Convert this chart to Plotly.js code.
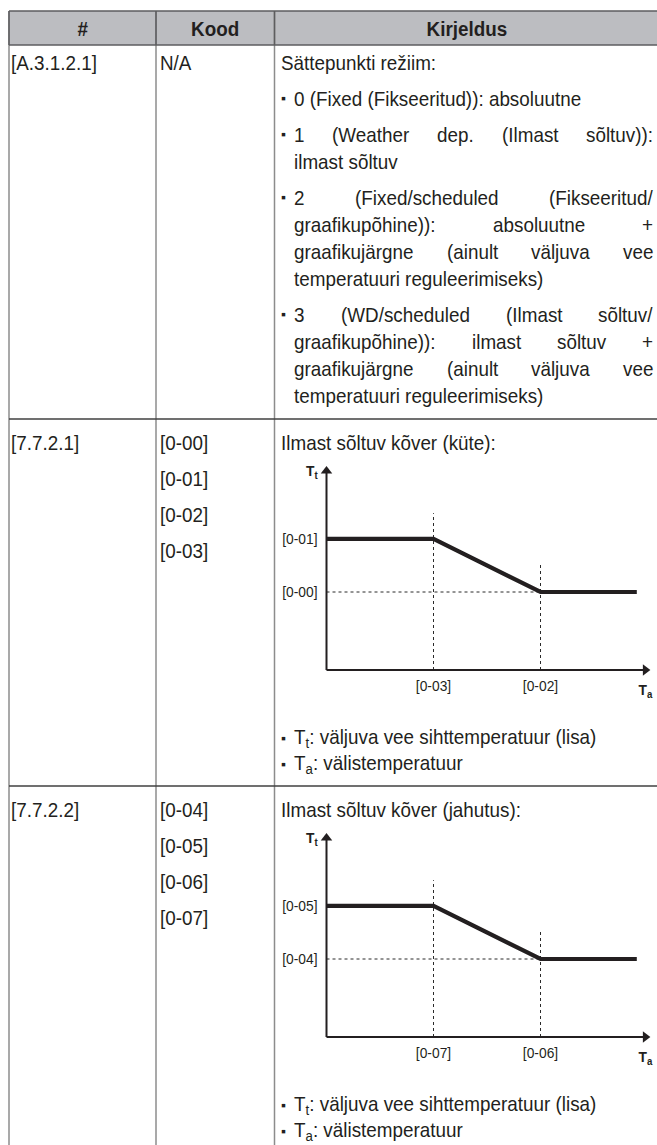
<!DOCTYPE html>
<html><head><meta charset="utf-8">
<script src="https://cdn.plot.ly/plotly-3.0.1.min.js"></script>
<style>html,body{margin:0;padding:0;background:#fff}#chart{width:657px;height:1145px}</style>
</head><body><div id="chart"></div>
<script>
// ---------------- data ----------------
const columnHeaders = ['#', 'Kood', 'Kirjeldus'];
const menuIds = ['[A.3.1.2.1]', '[7.7.2.1]', '[7.7.2.2]'];
const fieldCodes = [['N/A'], ['[0-00]', '[0-01]', '[0-02]', '[0-03]'], ['[0-04]', '[0-05]', '[0-06]', '[0-07]']];
const setpointIntro = 'Sättepunkti režiim:';
const setpointOptions = [
  ['0 (Fixed (Fikseeritud)): absoluutne'],
  ['1 (Weather dep. (Ilmast sõltuv)):', 'ilmast sõltuv'],
  ['2 (Fixed/scheduled (Fikseeritud/', 'graafikupõhine)): absoluutne +', 'graafikujärgne (ainult väljuva vee', 'temperatuuri reguleerimiseks)'],
  ['3 (WD/scheduled (Ilmast sõltuv/', 'graafikupõhine)): ilmast sõltuv +', 'graafikujärgne (ainult väljuva vee', 'temperatuuri reguleerimiseks)']
];
const curveTitles = ['Ilmast sõltuv kõver (küte):', 'Ilmast sõltuv kõver (jahutus):'];
const legendLines = ['T<sub>t</sub>: väljuva vee sihttemperatuur (lisa)', 'T<sub>a</sub>: välistemperatuur'];
// schematic weather dependent curve (Ta on x, Tt on y)
const curveTa = [0, 1, 2, 2.9];
const curveTt = [1.68, 1.68, 1, 1];
const breakTa = [1, 2];
const levelTt = [1, 1.68];
const guideTop = [2.01, 1.35];
const axisEnd = [2.98, 2.55];
const xTickText = [['[0-03]', '[0-02]'], ['[0-07]', '[0-06]']];
const yTickText = [['[0-00]', '[0-01]'], ['[0-04]', '[0-05]']];

// ---------------- geometry / style ----------------
const W = 657, H = 1145;
const FONT = '"Liberation Sans", Arial, sans-serif';
const INK = '#231f20';
const SX = 0.92;                 // slightly condensed face
const BODY = 20.5, SMALL = 15;
const GX = {left: 9, div1: 156, div2: 274.5, right: 657, textL: 281, itemL: 294, textR: 653};
const GY = {top: 11, head: 45, row2: 419, rowStep: 367, firstLine: 62, lineH: 27, paraH: 36};
const CH = {originX: 326.5, unitX: 107, unitY: 78, baseline: 670};

const ctx = document.createElement('canvas').getContext('2d');
function textWidth(s, size, bold) {
  ctx.font = (bold ? 'bold ' : '') + size + 'px "Liberation Sans"';
  return ctx.measureText(s).width * SX;
}
const anns = [], annOrigin = [], shapes = [];
function addText(txt, x, y, opts, origin) {
  anns.push(Object.assign({
    text: txt, x: x, y: y, xref: 'x', yref: 'y', showarrow: false,
    xanchor: 'left', yanchor: 'middle', borderpad: 0, borderwidth: 0,
    font: {family: FONT, size: BODY, color: INK}
  }, opts || {}));
  annOrigin.push(origin === undefined ? '0% 50%' : origin);
}
function addLine(txt, x0, x1, y, justify) {
  if (!justify) { addText(txt, x0, y); return; }
  const words = txt.split(' ');
  const widths = words.map(w => textWidth(w, BODY));
  const gap = (x1 - x0 - widths.reduce((a, b) => a + b, 0)) / (words.length - 1);
  let x = x0;
  words.forEach((w, i) => { addText(w, x, y); x += widths[i] + gap; });
}
function bullet(y) { addText('▪', GX.textL, y, {font: {family: FONT, size: 14, color: INK}}, null); }
function hline(y, color, w) { shapes.push({type: 'line', xref: 'x', yref: 'y', x0: GX.left, x1: GX.right, y0: y, y1: y, line: {color: color, width: w}}); }
function vline(x, y0, y1, color, w) { shapes.push({type: 'line', xref: 'x', yref: 'y', x0: x, x1: x, y0: y0, y1: y1, line: {color: color, width: w}}); }

// header
shapes.push({type: 'rect', xref: 'x', yref: 'y', x0: GX.left, x1: GX.right, y0: GY.top, y1: GY.head, fillcolor: '#bcbdc1', line: {width: 0}, layer: 'below'});
[GX.left, GX.div1, GX.div2].forEach(x => vline(x, GY.top, H, '#8c8c8c', 1.5));
[GX.left, GX.div1, GX.div2].forEach(x => vline(x, GY.top, GY.head, '#5d5d5f', 1.5));
hline(GY.top, '#5d5d5f', 1.5);
hline(GY.head, '#5d5d5f', 1.5);
const headCenters = [(GX.left + GX.div1) / 2, (GX.div1 + GX.div2) / 2, (GX.div2 + 660) / 2];
columnHeaders.forEach((h, i) => addText('<b>' + h + '</b>', headCenters[i], (GY.top + GY.head) / 2, {xanchor: 'center'}, '50% 50%'));

// row 1
addText(menuIds[0], GX.left + 2, GY.firstLine);
addText(fieldCodes[0][0], GX.div1 + 4, GY.firstLine);
let y = GY.firstLine;
addText(setpointIntro, GX.textL, y);
setpointOptions.forEach(lines => {
  y += GY.paraH;
  bullet(y);
  lines.forEach((ln, j) => {
    if (j > 0) y += GY.lineH;
    addLine(ln, GX.itemL, GX.textR, y, j < lines.length - 1);
  });
});

// rows 2 and 3
const data = [{x: [], y: [], type: 'scatter', xaxis: 'x', yaxis: 'y', hoverinfo: 'skip'}];
const layoutAxes = {};
for (let k = 0; k < 2; k++) {
  const off = k * GY.rowStep;
  const rowTop = GY.row2 + off;
  hline(rowTop, '#404040', 1.5);
  const y1 = rowTop + 23;
  addText(menuIds[k + 1], GX.left + 2, y1);
  fieldCodes[k + 1].forEach((c, i) => addText(c, GX.div1 + 4, y1 + i * GY.paraH));
  addText(curveTitles[k], GX.textL, y1);
  const base = CH.baseline + off;
  bullet(base + 68); addText(legendLines[0], GX.itemL, base + 68);
  bullet(base + 94); addText(legendLines[1], GX.itemL, base + 94);

  const xa = 'xaxis' + (k + 2), ya = 'yaxis' + (k + 2);
  const xr = [-5 / CH.unitX, 3.06], yr = [-5 / CH.unitY, 2.72];
  const pxL = CH.originX + xr[0] * CH.unitX, pxR = CH.originX + xr[1] * CH.unitX;
  const pxB = base - yr[0] * CH.unitY, pxT = base - yr[1] * CH.unitY;
  layoutAxes[xa] = {domain: [pxL / W, pxR / W], range: xr, anchor: 'y' + (k + 2),
    showgrid: false, zeroline: false, showline: false, ticks: '', tickvals: breakTa, ticktext: xTickText[k],
    tickfont: {family: FONT, size: SMALL, color: INK}, ticklabelstandoff: 0, fixedrange: true};
  layoutAxes[ya] = {domain: [(H - pxB) / H, (H - pxT) / H], range: yr, anchor: 'x' + (k + 2),
    showgrid: false, zeroline: false, showline: false, ticks: '', tickvals: levelTt, ticktext: yTickText[k],
    tickfont: {family: FONT, size: SMALL, color: INK}, ticklabelstandoff: 3, fixedrange: true};
  const xs = 'x' + (k + 2), ys = 'y' + (k + 2);
  // dotted guides
  data.push({type: 'scatter', mode: 'lines', xaxis: xs, yaxis: ys, hoverinfo: 'skip',
    x: [breakTa[0], breakTa[0], null, breakTa[1], breakTa[1], null, 0, breakTa[1]],
    y: [0, guideTop[0], null, 0, guideTop[1], null, levelTt[0], levelTt[0]],
    line: {color: '#2a2a2a', width: 1, dash: 'dot'}});
  // axes
  data.push({type: 'scatter', mode: 'lines', xaxis: xs, yaxis: ys, hoverinfo: 'skip',
    x: [0, axisEnd[0], null, 0, 0], y: [0, 0, null, 0, axisEnd[1]],
    line: {color: INK, width: 2}});
  data.push({type: 'scatter', mode: 'markers', xaxis: xs, yaxis: ys, hoverinfo: 'skip', cliponaxis: false,
    x: [axisEnd[0], 0], y: [0, axisEnd[1]],
    marker: {symbol: ['triangle-right', 'triangle-up'], size: 10, color: INK, line: {width: 0}}});
  // curve
  data.push({type: 'scatter', mode: 'lines', xaxis: xs, yaxis: ys, hoverinfo: 'skip',
    x: curveTa, y: curveTt, line: {color: INK, width: 4.2}});
  anns.push({xref: xs, yref: ys, x: 0, y: axisEnd[1], text: '<b>T<sub>t</sub></b>', showarrow: false,
    xanchor: 'right', yanchor: 'middle', xshift: -7, yshift: 0, font: {family: FONT, size: SMALL, color: INK}});
  annOrigin.push('100% 50%');
  anns.push({xref: xs, yref: ys, x: axisEnd[0], y: 0, text: '<b>T<sub>a</sub></b>', showarrow: false,
    xanchor: 'center', yanchor: 'top', xshift: 0, yshift: -9, font: {family: FONT, size: SMALL, color: INK}});
  annOrigin.push('50% 50%');
}

const layout = Object.assign({
  width: W, height: H, margin: {l: 0, r: 0, t: 0, b: 0},
  paper_bgcolor: '#fff', plot_bgcolor: 'rgba(0,0,0,0)', showlegend: false,
  xaxis: {domain: [0, 1], range: [0, W], visible: false, fixedrange: true},
  yaxis: {domain: [0, 1], range: [H, 0], visible: false, fixedrange: true},
  shapes: shapes, annotations: anns
}, layoutAxes);

function condense(el, origin) {
  el.style.transformBox = 'fill-box';
  el.style.transformOrigin = origin;
  el.style.transform = 'scaleX(' + SX + ')';
}
function condenseTick(t) {
  const ax = parseFloat(t.getAttribute('x')) || 0;
  const tr = t.getAttribute('transform') || '';
  t.setAttribute('transform', tr + ' translate(' + ax + ',0) scale(' + SX + ',1) translate(' + (-ax) + ',0)');
}
Plotly.newPlot('chart', data, layout, {displayModeBar: false, staticPlot: true}).then(gd => {
  gd.querySelectorAll('g.annotation').forEach(g => {
    const i = +g.getAttribute('data-index');
    const o = annOrigin[i];
    const t = g.querySelector('text.annotation-text');
    if (t && o) condense(t, o);
  });
  gd.querySelectorAll('.xtick text, .x2tick text, .x3tick text, .ytick text, .y2tick text, .y3tick text').forEach(condenseTick);
});
</script></body></html>
